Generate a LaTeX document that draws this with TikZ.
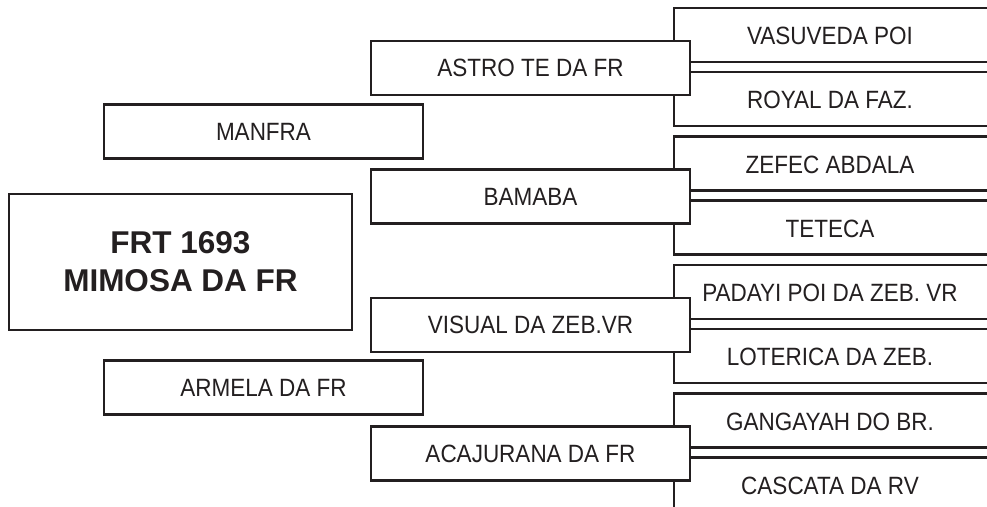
\documentclass[tikz,border=0pt]{standalone}
\usepackage{fontspec}
\setmainfont{Liberation Sans}
\newfontfamily\condfont[FakeStretch=0.9]{Liberation Sans}
\definecolor{ink}{HTML}{231F20}
\begin{document}
\begin{tikzpicture}[x=1pt,y=-1pt,
  line width=2.4pt, draw=ink,
  box/.style={draw=ink, fill=white, rectangle, inner sep=0pt,
    minimum width=319pt, minimum height=54pt,
    font=\condfont\fontsize{25}{28}\selectfont, text=ink},
  lbl/.style={inner sep=0pt, font=\condfont\fontsize{25}{28}\selectfont, text=ink},
  big/.style={draw=ink, fill=white, rectangle, inner sep=0pt,
    minimum width=343pt, minimum height=136pt, align=center,
    font=\bfseries\fontsize{31.5}{38}\selectfont, text=ink}]
\useasboundingbox (0,0) rectangle (987,506);
\clip (0,0) rectangle (987,506);
\fill[white] (0,0) rectangle (987,506);
% right column: open boxes, drawn first
\foreach \k/\ta/\tb/\na/\nb in {0/VASUVEDA POI/ROYAL DA FAZ./r1/r2,
                       1/ZEFEC ABDALA/TETECA/r3/r4,
                       2/PADAYI POI DA ZEB. VR/LOTERICA DA ZEB./r5/r6,
                       3/GANGAYAH DO BR./CASCATA DA RV/r7/r8}{
  \pgfmathsetmacro{\ya}{8+128.5*\k}
  \pgfmathsetmacro{\yb}{\ya+54}
  \pgfmathsetmacro{\yc}{\ya+64}
  \pgfmathsetmacro{\yd}{\ya+118}
  \draw (1000,\ya) -- (674,\ya) -- (674,\yb) -- (1000,\yb);
  \draw (1000,\yc) -- (674,\yc) -- (674,\yd) -- (1000,\yd);
  \node[lbl] (\na) at (830,{\ya+28}) {\ta};
  \node[lbl] (\nb) at (830,{\yc+28}) {\tb};
}
% middle column
\node[box] (astro) at (530.5,68) {ASTRO TE DA FR};
\node[box] (bamaba) at (530.5,196.5) {BAMABA};
\node[box] (visual) at (530.5,325) {VISUAL DA ZEB.VR};
\node[box] (acaj) at (530.5,453.5) {ACAJURANA DA FR};
% left column
\node[box] (manfra) at (263.5,131.5) {MANFRA};
\node[box] (armela) at (263.5,387.5) {ARMELA DA FR};
\node[big] (frt) at (180.5,262) {FRT 1693\\MIMOSA DA FR};
\end{tikzpicture}
\end{document}
